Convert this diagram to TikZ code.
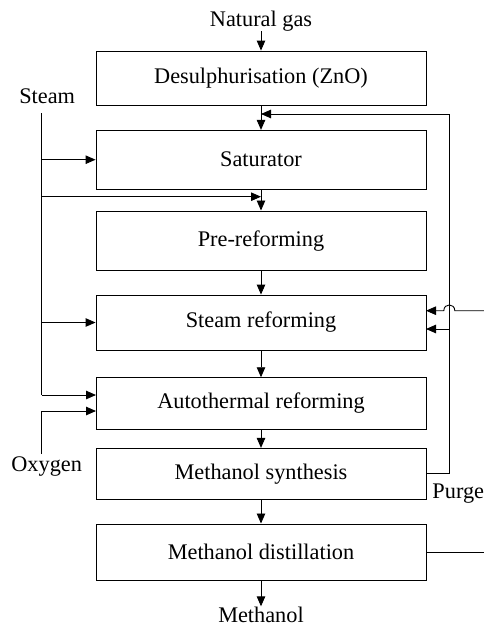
\documentclass[tikz,border=0pt]{standalone}
\usepackage{fontspec}
\setmainfont{Liberation Serif}
\usetikzlibrary{arrows.meta}
\begin{document}
\begin{tikzpicture}[x=1pt,y=-1pt,
  every node/.style={font=\fontsize{22.3}{26.8}\selectfont, inner sep=0pt},
  proc/.style={draw, line width=0.9pt, minimum width=330pt, anchor=center},
  lab/.style={anchor=base},
  ln/.style={line width=0.9pt},
  arr/.style={line width=0.9pt, -{Triangle[length=10pt,width=8.5pt]}}]
\useasboundingbox (0,0) rectangle (484,627);
% process boxes
\node[proc, minimum height=54pt]   (desul) at (261,78)    {Desulphurisation (ZnO)};
\node[proc, minimum height=58.7pt] (sat)   at (261,159.7) {Saturator};
\node[proc, minimum height=59.7pt] (pre)   at (261,240.8) {Pre-reforming};
\node[proc, minimum height=55pt]   (steam) at (261,322.5) {Steam reforming};
\node[proc, minimum height=51.6pt] (auto)  at (261,403.5) {Autothermal reforming};
\node[proc, minimum height=50.7pt] (synth) at (261,473.7) {Methanol synthesis};
\node[proc, minimum height=56.7pt] (dist)  at (261,552.3) {Methanol distillation};
% labels
\node[lab] (ng)    at (261,26)    {Natural gas};
\node[lab] (stlab) at (47.2,103)  {Steam};
\node[lab] (oxy)   at (46.7,471.7){Oxygen};
\node[lab] (purge) at (458.3,498) {Purge};
\node[lab] (meth)  at (261,622)   {Methanol};
% coordinates
\coordinate (stm)  at (41.7,113);
\coordinate (sb1)  at (41.7,196.7);
\coordinate (j1)   at (261,196.7);
\coordinate (sb2)  at (41.7,322.5);
\coordinate (sb3)  at (41.7,395);
\coordinate (ain1) at (96,395);
\coordinate (ox0)  at (41.7,454);
\coordinate (ain2) at (96,411);
\coordinate (rc1)  at (449.3,473.7);
\coordinate (rc2)  at (449.3,114);
\coordinate (j0)   at (261,114);
\coordinate (rc3)  at (449.3,329);
\coordinate (sin2) at (426,329);
\coordinate (fin)  at (484,310.7);
\coordinate (h1)   at (454.8,310.7);
\coordinate (h2)   at (443.8,310.7);
\coordinate (sin1) at (426,310.7);
\coordinate (dout) at (484,552.3);
% main flow
\draw[arr] (ng.south) -- (desul.north);
\draw[arr] (desul.south) -- (sat.north);
\draw[arr] (sat.south) -- (pre.north);
\draw[arr] (pre.south) -- (steam.north);
\draw[arr] (steam.south) -- (auto.north);
\draw[arr] (auto.south) -- (synth.north);
\draw[arr] (synth.south) -- (dist.north);
\draw[arr] (dist.south) -- (meth.north);
% steam distribution
\draw[ln] (stm) -- (sb3);
\draw[arr] (stm |- sat.west) -- (sat.west);
\draw[arr] (sb1) -- (j1);
\draw[arr] (sb2) -- (steam.west);
\draw[arr] (sb3) -- (ain1);
% oxygen
\draw[arr] (ox0) |- (ain2);
% recycle / purge loop
\draw[arr] (synth.east) -- (rc1) -- (rc2) -- (j0);
\draw[arr] (rc3) -- (sin2);
% feed with hop
\draw[arr] (fin) -- (h1) .. controls (454.8,303) and (443.8,303) .. (h2) -- (sin1);
% distillation side stream
\draw[ln] (dist.east) -- (dout);
\end{tikzpicture}
\end{document}
